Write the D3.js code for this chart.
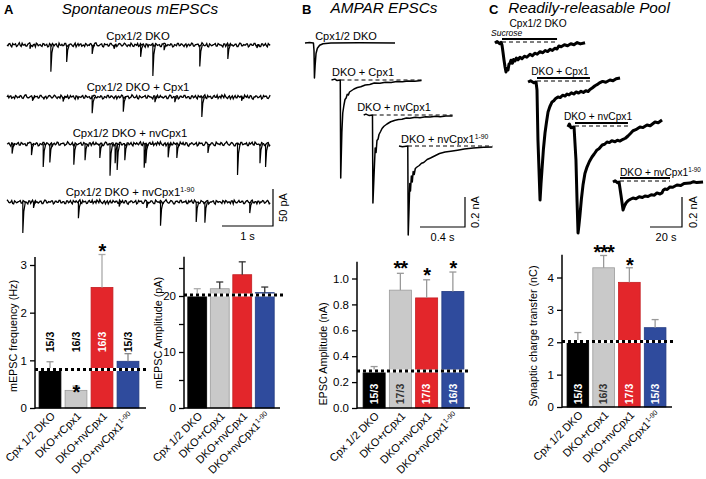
<!DOCTYPE html>
<html><head><meta charset="utf-8">
<script src="https://cdn.jsdelivr.net/npm/d3@7"></script>
<style>body{margin:0;background:#fff}svg{display:block;font-family:"Liberation Sans",Arial,Helvetica,sans-serif}</style>
</head><body><svg id="c" width="706" height="479"></svg>
<script>
// ================= DATA =================
const groups = ["Cpx 1/2 DKO","DKO+rCpx1","DKO+nvCpx1","DKO+nvCpx1"];
const groupSup = ["","","","1-90"];
const barColors = ["#000000","#c9c9c9","#e3262b","#2f4b9d"];
const barStroke = ["#000000","#9a9a9a","#c41e22","#223a80"];

const freqMean = [0.81,0.37,2.53,0.98], freqErr = [0.16,0.09,0.69,0.16];
const freqN = ["15/3","16/3","16/3","15/3"], freqStars = ["","*","*",""];
const freqTicks = [0,1,2,3];

const ampMean = [20.2,21.3,23.8,20.6], ampErr = [1.1,1.2,2.3,1.0];
const ampTicks = [0,5,10,15,20,25];

const epscMean = [0.285,0.91,0.85,0.90], epscErr = [0.035,0.13,0.14,0.15];
const epscN = ["15/3","17/3","17/3","16/3"], epscStars = ["","**","*","*"];
const epscTicks = [0,0.2,0.4,0.6,0.8,1.0];

const chargeMean = [2.02,4.30,3.85,2.45], chargeErr = [0.28,0.38,0.45,0.25];
const chargeN = ["15/3","16/3","17/3","15/3"], chargeStars = ["","***","*",""];
const chargeTicks = [0,1,2,3,4];

// Panel A: hand-read baseline noise (pA) and events [time s, amplitude pA]
const noiseA = [0,1.5,-1,2,0.5,-2,1,-0.5,2.5,0,-1.5,1,3,-1,0.5,-2.5,1.5,0,-1,2,-0.5,1,-2,0.5,2,-1,1.5,-3,0,1,-0.5,2,-1.5,0.5,1,-2,2.5,0,-1,1.5,-0.5,-2,1,0,2,-1.5,0.5,3,-1,0,1.5,-2.5,0.5,1,-1,2,-0.5,0,-2,1.5,1,-1,2.5,-0.5,0,-1.5,1,-2,0.5,2,-1,0,1.5,-3,1,0.5,-0.5,2,-1.5,1,0,-2,1.5,2.5,-1,0.5,-0.5,1,-2,0,2,-1,1.5,-0.5,0.5,-2.5,1,0,2,-1.5,0.5,1,-1,3,-0.5,0,-2,1.5,-1,0.5,2,-1.5,1,0,-2.5,1.5,0.5,-1,2,0,-0.5,1,-2,2.5,-1,0.5,0,1.5,-1.5,1,-0.5,2,-1,0.5,-2,1.5,0,-1,2,-0.5];
const noiseB = [-1,2,-2.5,0.5,1.5,-1,3,-2,0,1,-1.5,2,-0.5,-2,1,2.5,-1,0.5,-2,1.5,0,-2.5,2,-1,0.5,1,-1.5,2.5,-0.5,-1,2,-2,0,1.5,-1,0.5,-2.5,2,1,-1.5,0,2,-1,-0.5,1.5,-2,2.5,0,-1,1,-2,1.5,0.5,-1.5,2,0,-2.5,1,-0.5,2,-1,0.5,1.5,-2,0,2.5,-1.5,1,-0.5,-2,2,0.5,-1,1.5,-2.5,0,1,-1.5,2,-0.5,0.5,-2,1,2,-1,0,1.5,-2.5,0.5,-1,2,-0.5,1,-2,1.5,0,-1,2.5,-1.5,0.5,1,-2,0,1.5,-1,2,-2.5,0.5,-0.5,1,-1.5,2,0,-1,1.5,-2,2.5,-0.5,0,-1.5,1,-2,0.5,2,-1,0,1.5,-2.5,1,-0.5,2,-1,0.5,-2,1.5];
const evA1 = [[0.45,5],[0.86,36],[1.17,23],[1.67,12],[2.1,5],[2.62,16],[2.86,42],[3.08,7],[3.78,29],[4.33,19],[4.9,4]];
const evA2 = [[0.5,5],[1.10,6],[1.67,22],[2.28,20],[2.9,7],[3.29,7],[3.82,27],[4.6,5]];
const evA3 = [[0.10,13],[0.48,15],[0.71,31],[0.84,25],[1.31,28],[1.53,22],[1.82,19],[2.02,43],[2.12,26],[2.16,35],[2.31,22],[2.69,32],[2.72,26],[3.16,18],[3.33,19],[3.94,12],[4.52,42],[4.96,26],[5.07,31]];
const evA4 = [[0.31,42],[0.52,8],[1.40,22],[2.2,6],[2.74,8],[3.01,32],[3.71,27],[3.88,28],[4.76,15]];

// Panel B traces [time s rel. stimulus, current nA]
const trB1 = [[-0.08,0],[-0.04,0.003],[-0.005,0],[0,-0.05],[0.004,-0.233],[0.01,-0.15],[0.018,-0.07],[0.03,-0.035],[0.05,-0.015],[0.08,-0.005],[0.15,0],[0.4,0.002],[0.72,0]];
const trB2 = [[-0.08,0],[-0.05,0.006],[-0.03,-0.004],[-0.002,0],[0.002,-0.653],[0.012,-0.35],[0.02,-0.22],[0.03,-0.17],[0.04,-0.13],[0.05,-0.12],[0.06,-0.095],[0.07,-0.1],[0.08,-0.08],[0.1,-0.07],[0.12,-0.06],[0.15,-0.05],[0.18,-0.045],[0.22,-0.033],[0.26,-0.03],[0.3,-0.02],[0.35,-0.022],[0.4,-0.015],[0.45,-0.016],[0.5,-0.01],[0.55,-0.012],[0.6,-0.006],[0.66,-0.008],[0.72,-0.004]];
const trB3 = [[-0.08,0],[-0.06,0.006],[-0.03,-0.004],[-0.002,0],[0.002,-0.587],[0.012,-0.4],[0.022,-0.22],[0.03,-0.25],[0.038,-0.17],[0.048,-0.16],[0.056,-0.13],[0.07,-0.11],[0.083,-0.09],[0.1,-0.075],[0.127,-0.06],[0.16,-0.045],[0.2,-0.035],[0.23,-0.03],[0.26,-0.028],[0.3,-0.02],[0.33,-0.022],[0.38,-0.015],[0.42,-0.018],[0.47,-0.012],[0.51,-0.014],[0.56,-0.008],[0.6,-0.012],[0.65,-0.006],[0.71,-0.007]];
const trB4 = [[-0.08,0],[-0.05,-0.005],[-0.002,0],[0.002,-0.593],[0.01,-0.4],[0.016,-0.25],[0.022,-0.3],[0.03,-0.2],[0.038,-0.24],[0.046,-0.17],[0.055,-0.19],[0.065,-0.15],[0.08,-0.14],[0.1,-0.13],[0.12,-0.115],[0.14,-0.11],[0.17,-0.09],[0.2,-0.08],[0.24,-0.065],[0.28,-0.05],[0.33,-0.04],[0.38,-0.035],[0.44,-0.028],[0.5,-0.02],[0.58,-0.014],[0.67,-0.009],[0.75,-0.006]];

// Panel C traces [time s rel. sucrose onset, current nA]
const trC1 = [[-4.4,0],[-3,0.01],[-1.5,-0.005],[-0.6,0.005],[0,-0.013],[0.6,-0.06],[1.25,-0.113],[1.9,-0.16],[2.5,-0.193],[3.1,-0.17],[3.75,-0.18],[4.4,-0.14],[5,-0.135],[5.6,-0.115],[6.5,-0.135],[7.2,-0.11],[8.1,-0.12],[9,-0.1],[10,-0.112],[11.25,-0.095],[12.5,-0.105],[14,-0.088],[15.5,-0.095],[17.5,-0.075],[19,-0.085],[20.5,-0.068],[22,-0.075],[23.75,-0.058],[25.5,-0.065],[27,-0.05],[28.5,-0.057],[30,-0.042],[31.5,-0.05],[33,-0.035],[34.4,-0.04],[35.5,-0.02],[37,-0.025],[39,-0.012],[41,-0.018],[43,-0.005],[45,-0.012],[47,0.003],[49,-0.006],[51.9,0.002]];
const trC2 = [[-5.6,0],[-4,0.008],[-2,-0.005],[-0.6,0],[0,-0.053],[0.6,-0.387],[1.9,-0.787],[2.5,-0.68],[3.1,-0.587],[4,-0.45],[5,-0.34],[5.9,-0.27],[6.9,-0.2],[8,-0.165],[9.4,-0.133],[10.5,-0.125],[11.5,-0.112],[13.1,-0.1],[14.5,-0.104],[16,-0.088],[17.5,-0.094],[18.75,-0.08],[20,-0.086],[21.5,-0.072],[23,-0.08],[24.5,-0.066],[26,-0.074],[27.5,-0.062],[29,-0.07],[30.5,-0.058],[32,-0.063],[33.1,-0.05],[34.5,-0.04],[36.25,-0.025],[37.5,-0.018],[39.4,-0.004],[41,0.004],[43,-0.002],[45.6,0.013],[47.5,0.008],[49.5,0.022],[51.9,0.027]];
const trC3 = [[-4.4,0],[-3.5,0.02],[-2.5,-0.005],[-0.6,0],[0.6,-0.22],[1.3,-0.5],[1.9,-0.707],[2.5,-0.65],[3.1,-0.587],[4,-0.48],[5,-0.387],[6.2,-0.31],[7.5,-0.267],[9,-0.23],[10.6,-0.2],[12,-0.18],[13.75,-0.153],[15,-0.145],[17,-0.12],[18.5,-0.115],[20,-0.1],[21.5,-0.104],[23,-0.092],[25,-0.098],[26.5,-0.088],[28,-0.094],[30,-0.082],[31.5,-0.075],[33.1,-0.06],[34.5,-0.045],[36.25,-0.025],[38,-0.018],[40.6,0],[42.5,-0.004],[45,0.013],[47,0.008],[50,0.033],[52,0.028],[54.4,0.047]];
const trC4 = [[-4.4,0],[-3,0.008],[-1.5,-0.005],[-0.6,0],[0.6,-0.087],[1.9,-0.187],[2.8,-0.16],[3.75,-0.14],[5,-0.125],[6.5,-0.115],[8.1,-0.107],[10,-0.112],[12,-0.098],[14,-0.103],[15.6,-0.093],[17.5,-0.097],[19.5,-0.085],[21.5,-0.088],[23.1,-0.073],[25,-0.08],[26.25,-0.073],[27,-0.055],[28.1,-0.047],[29.5,-0.05],[31.25,-0.033],[33,-0.035],[35.6,-0.02],[38,-0.024],[40,-0.01],[43.75,-0.007],[46,0.002],[48,-0.004],[51.9,0]];
const sucroseDur = [34.4,33.1,33.1,31.25];

// ================= DRAW =================
const svg = d3.select("#c");
const F = '"Liberation Sans",Arial,sans-serif';

function txt(x,y,s,o={}){
  const t = svg.append("text").attr("x",x).attr("y",y).text(s)
    .attr("font-size",o.size||11).attr("fill",o.fill||"#000")
    .attr("text-anchor",o.anchor||"start");
  if(o.weight) t.attr("font-weight",o.weight);
  if(o.style) t.attr("font-style",o.style);
  if(o.rot!==undefined) t.attr("transform",`rotate(${o.rot},${x},${y})`);
  if(o.dy) t.attr("dy",o.dy);
  return t;
}
function labelSup(x,y,main,sup,o={}){
  const t = txt(x,y,main,o);
  if(sup) t.append("tspan").attr("font-size",(o.size||11)*0.62).attr("dy",-4).text(sup);
  return t;
}

// panel letters + titles
txt(4,14,"A",{size:13,weight:"bold"});
txt(302,14,"B",{size:13,weight:"bold"});
txt(489,14,"C",{size:13,weight:"bold"});
txt(140,14,"Spontaneous mEPSCs",{size:15.3,style:"italic",anchor:"middle"});
txt(384,13,"AMPAR EPSCs",{size:15.3,style:"italic",anchor:"middle"});
txt(589,13,"Readily-releasable Pool",{size:15.3,style:"italic",anchor:"middle"});

// ---- Panel A traces
const xA = d3.scaleLinear().domain([0,1]).range([0,51]);
const yA = d3.scaleLinear().domain([0,50]).range([0,37]);
const tracesA = [
  {ev:evA1, x0:7, base:45, off:0,  lab:"Cpx1/2 DKO", sup:"", lx:138, ly:40},
  {ev:evA2, x0:7, base:97, off:37, lab:"Cpx1/2 DKO + Cpx1", sup:"", lx:138, ly:91},
  {ev:evA3, x0:7, base:144, off:71, lab:"Cpx1/2 DKO + nvCpx1", sup:"", lx:130, ly:137},
  {ev:evA4, x0:7, base:202, off:103, lab:"Cpx1/2 DKO + nvCpx1", sup:"1-90", lx:130, ly:196}
];
const durA = 5.16;
tracesA.forEach(tr=>{
  const n = noiseA.length, m = noiseB.length;
  const dt = durA/(n-1);
  const pts = [];
  for(let i=0;i<n;i++){
    pts.push([i*dt, noiseA[(i+tr.off)%n]]);
    if(i<n-1) pts.push([(i+0.5)*dt, noiseB[(i+tr.off)%m]]);
  }
  const ln = d3.line().x(d=>tr.x0+xA(d[0])).y(d=>tr.base-yA(d[1]));
  svg.append("path").attr("d",ln(pts)).attr("fill","none").attr("stroke","#000").attr("stroke-width",1.3);
  tr.ev.forEach(e=>{
    const sp = [[e[0],0],[e[0],-e[1]],[e[0]+0.02,-e[1]*0.3],[e[0]+0.05,0]];
    svg.append("path").attr("d",ln(sp)).attr("fill","none").attr("stroke","#000").attr("stroke-width",1.2);
  });
  labelSup(tr.lx,tr.ly,tr.lab,tr.sup,{anchor:"middle",size:11.3});
});
// scale bar A
{
  const sx=273, sy=226;
  svg.append("path").attr("d",`M${sx-xA(1)},${sy}H${sx}V${sy-yA(50)}`).attr("fill","none").attr("stroke","#000").attr("stroke-width",1.2);
  txt(sx-xA(1)/2,240,"1 s",{anchor:"middle"});
  txt(287,sy-yA(50)/2,"50 pA",{anchor:"middle",rot:-90});
}

// ---- Panel B traces
const xB = d3.scaleLinear().domain([0,0.4]).range([0,45]);
const yB = d3.scaleLinear().domain([0,0.2]).range([0,30]);
const tracesB = [
  {d:trB1, x0:314, base:43, lab:"Cpx1/2 DKO", sup:"", lx:346, ly:40, dash:false},
  {d:trB2, x0:340.5, base:80, lab:"DKO + Cpx1", sup:"", lx:363, ly:76, dash:true},
  {d:trB3, x0:372.7, base:115, lab:"DKO + nvCpx1", sup:"", lx:394, ly:111, dash:true},
  {d:trB4, x0:408, base:146, lab:"DKO + nvCpx1", sup:"1-90", lx:401, ly:143, dash:true, anchor:"start"}
];
tracesB.forEach(tr=>{
  const ln = d3.line().x(d=>tr.x0+xB(d[0])).y(d=>tr.base-yB(d[1]));
  if(tr.dash){
    const tEnd = tr.d[tr.d.length-1][0];
    svg.append("line").attr("x1",tr.x0).attr("x2",tr.x0+xB(tEnd)).attr("y1",tr.base).attr("y2",tr.base)
      .attr("stroke","#000").attr("stroke-width",1).attr("stroke-dasharray","4,3");
  }
  svg.append("path").attr("d",ln(tr.d)).attr("fill","none").attr("stroke","#000").attr("stroke-width",1.5).attr("stroke-linejoin","round");
  labelSup(tr.lx,tr.ly,tr.lab,tr.sup,{anchor:tr.anchor||"middle"});
});
{
  const sx=465, sy=227;
  svg.append("path").attr("d",`M${sx-xB(0.4)},${sy}H${sx}V${sy-yB(0.2)}`).attr("fill","none").attr("stroke","#000").attr("stroke-width",1.2);
  txt(sx-xB(0.4)/2,241,"0.4 s",{anchor:"middle"});
  txt(479,sy-yB(0.2)/2,"0.2 nA",{anchor:"middle",rot:-90});
}

// ---- Panel C traces
const xC = d3.scaleLinear().domain([0,20]).range([0,32]);
const yC = d3.scaleLinear().domain([0,0.2]).range([0,30]);
const tracesC = [
  {d:trC1, x0:502, base:43, lab:"Cpx1/2 DKO", sup:"", lx:538, ly:27},
  {d:trC2, x0:537, base:82, lab:"DKO + Cpx1", sup:"", lx:560, ly:75},
  {d:trC3, x0:575, base:127, lab:"DKO + nvCpx1", sup:"", lx:598, ly:120},
  {d:trC4, x0:620, base:182, lab:"DKO + nvCpx1", sup:"1-90", lx:620, ly:176, anchor:"start"}
];
tracesC.forEach((tr,i)=>{
  const ln = d3.line().x(d=>tr.x0+xC(d[0])).y(d=>tr.base-yC(d[1]));
  const dur = sucroseDur[i];
  svg.append("line").attr("x1",tr.x0).attr("x2",tr.x0+xC(dur)).attr("y1",tr.base-1).attr("y2",tr.base-1)
    .attr("stroke","#000").attr("stroke-width",1).attr("stroke-dasharray","4,3");
  svg.append("line").attr("x1",tr.x0).attr("x2",tr.x0+xC(dur)).attr("y1",tr.base-4).attr("y2",tr.base-4)
    .attr("stroke","#000").attr("stroke-width",2.2);
  svg.append("path").attr("d",ln(tr.d)).attr("fill","none").attr("stroke","#000").attr("stroke-width",3).attr("stroke-linejoin","round");
  labelSup(tr.lx,tr.ly,tr.lab,tr.sup,{anchor:tr.anchor||"middle",size:10.2});
});
txt(491,36,"Sucrose",{size:8.5,style:"italic"});
{
  const sx=682, sy=227;
  svg.append("path").attr("d",`M${sx-xC(20)},${sy}H${sx}V${sy-yC(0.2)}`).attr("fill","none").attr("stroke","#000").attr("stroke-width",1.2);
  txt(sx-xC(20)/2,241,"20 s",{anchor:"middle"});
  txt(697,sy-yC(0.2)/2,"0.2 nA",{anchor:"middle",rot:-90});
}

// ---- Bar charts
function barChart(o){
  const g = svg.append("g");
  const x = d3.scaleBand().domain(d3.range(4)).range(o.xr).paddingInner(0.16).paddingOuter(0.08);
  const y = d3.scaleLinear().domain(o.yd).range(o.yr);
  const bw = x.bandwidth();
  g.selectAll("rect.b").data(o.mean).join("rect")
    .attr("x",(d,i)=>x(i)).attr("width",bw).attr("y",d=>y(d)).attr("height",d=>y(0)-y(d))
    .attr("fill",(d,i)=>barColors[i]).attr("stroke",(d,i)=>barStroke[i]).attr("stroke-width",0.8);
  o.mean.forEach((m,i)=>{
    const cx = x(i)+bw/2, top = y(m+o.err[i]);
    const c = o.errCol[i];
    g.append("line").attr("x1",cx).attr("x2",cx).attr("y1",y(m)).attr("y2",top).attr("stroke",c).attr("stroke-width",1.3);
    g.append("line").attr("x1",cx-3.5).attr("x2",cx+3.5).attr("y1",top).attr("y2",top).attr("stroke",c).attr("stroke-width",1.3);
    if(o.stars && o.stars[i]){
      const sy = o.starY ? o.starY[i] : top-8;
      g.append("text").attr("x",cx).attr("y",sy+10).attr("text-anchor","middle")
        .attr("font-size",20).attr("font-weight","bold").attr("letter-spacing",-1).text(o.stars[i]);
    }
    if(o.n){
      g.append("text").attr("x",cx).attr("y",o.nY).attr("dy","0.35em").attr("text-anchor","middle")
        .attr("transform",`rotate(-90,${cx},${o.nY})`).attr("font-size",o.nSize).attr("font-weight","bold")
        .attr("fill",o.nCol[i]).text(o.n[i]);
    }
  });
  const ry = y(o.mean[0]);
  g.append("line").attr("x1",o.ax).attr("x2",o.refEnd).attr("y1",ry).attr("y2",ry).attr("stroke","#fff").attr("stroke-width",3);
  g.append("line").attr("x1",o.ax).attr("x2",o.refEnd).attr("y1",ry).attr("y2",ry).attr("stroke","#000").attr("stroke-width",3).attr("stroke-dasharray","3,3");
  const ax = g.append("g").attr("transform",`translate(${o.ax},0)`)
    .call(d3.axisLeft(y).tickValues(o.ticks).tickSize(5).tickPadding(3).tickFormat(o.fmt));
  ax.select(".domain").remove();
  ax.selectAll("line").attr("stroke","#000").attr("stroke-width",1.3);
  ax.selectAll("text").attr("font-size",11.5).attr("font-family",F).attr("fill","#000");
  g.append("line").attr("x1",o.ax).attr("x2",o.ax).attr("y1",y(0)+0.7).attr("y2",y(o.top)).attr("stroke","#000").attr("stroke-width",1.5);
  g.append("line").attr("x1",o.ax).attr("x2",o.axEnd).attr("y1",y(0)).attr("y2",y(0)).attr("stroke","#000").attr("stroke-width",1.5);
  g.append("text").attr("x",o.lab[0]).attr("y",o.lab[1]).attr("dy","0.35em").attr("text-anchor","middle")
    .attr("transform",`rotate(-90,${o.lab[0]},${o.lab[1]})`).attr("font-size",10.8).text(o.label);
  groups.forEach((gname,i)=>{
    const cx = x(i)+bw/2+3, cy = y(0)+6;
    const t = g.append("text").attr("x",cx).attr("y",cy).attr("dy","0.35em").attr("text-anchor","end")
      .attr("transform",`rotate(-45,${cx},${cy})`).attr("font-size",11).text(gname);
    if(groupSup[i]) t.append("tspan").attr("font-size",7).attr("dy",-4).text(groupSup[i]);
  });
}

barChart({mean:freqMean, err:freqErr, xr:[37,141], yd:[0,3], yr:[408,265], top:3.17, ax:35, axEnd:146, refEnd:149,
  ticks:freqTicks, fmt:d3.format("d"), label:"mEPSC frequency (Hz)", lab:[13,336],
  stars:freqStars, starY:[0,389,248,0], n:freqN, nY:342, nSize:10.5, nCol:["#000","#000","#fff","#000"],
  errCol:["#999","#999","#aaa","#888"]});
barChart({mean:ampMean, err:ampErr, xr:[186,276], yd:[0,25], yr:[408,268], top:27, ax:184, axEnd:280, refEnd:284,
  ticks:ampTicks, fmt:d=>d%10===0?d:"", label:"mEPSC Amplitude (pA)", lab:[158,333],
  errCol:["#aaa","#333","#333","#333"]});
barChart({mean:epscMean, err:epscErr, xr:[361,466], yd:[0,1], yr:[408,278.5], top:1.13, ax:357, axEnd:470, refEnd:471,
  ticks:epscTicks, fmt:d3.format(".1f"), label:"EPSC Amplitude (nA)", lab:[323,354],
  stars:epscStars, starY:[0,265,272,265], n:epscN, nY:394, nSize:10.5, nCol:["#fff","#333","#fff","#fff"],
  errCol:["#999","#999","#999","#999"]});
barChart({mean:chargeMean, err:chargeErr, xr:[565,668], yd:[0,4], yr:[407,277.5], top:4.7, ax:562, axEnd:672, refEnd:674,
  ticks:chargeTicks, fmt:d3.format("d"), label:"Synaptic charge transfer (nC)", lab:[533,336],
  stars:chargeStars, starY:[0,249,262,0], n:chargeN, nY:394, nSize:10.5, nCol:["#fff","#333","#fff","#fff"],
  errCol:["#999","#999","#999","#999"]});
</script></body></html>
